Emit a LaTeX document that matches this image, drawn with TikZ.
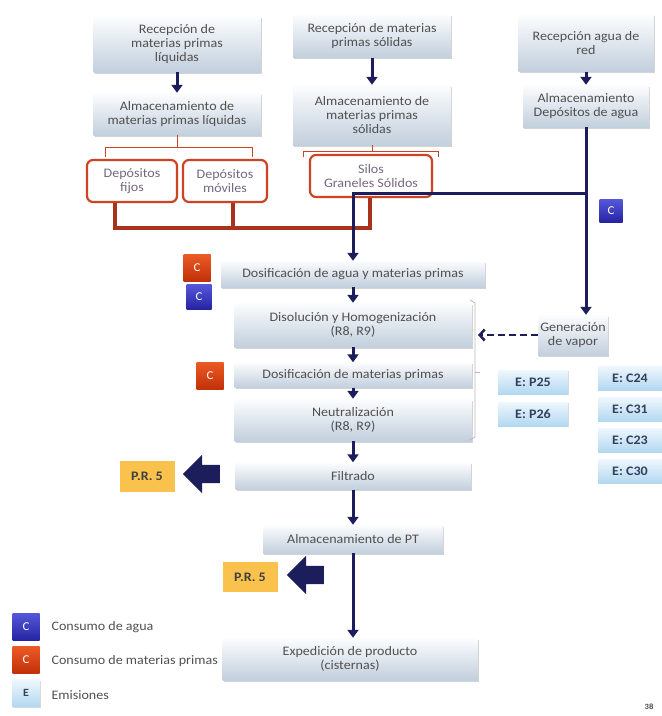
\documentclass[tikz,border=0pt]{standalone}
\usepackage{fontspec}
\setmainfont{Carlito}[FakeStretch=1.08]
\usetikzlibrary{arrows.meta,shapes.arrows,shadows,calc}

\definecolor{navy}{HTML}{1C1E5C}
\definecolor{boxtop}{HTML}{FCFDFE}
\definecolor{boxbot}{HTML}{C2CFDD}
\definecolor{boxtxt}{HTML}{505050}
\definecolor{tanktxt}{HTML}{74687E}
\definecolor{redline}{HTML}{A8321A}
\definecolor{redbox}{HTML}{CC4424}
\definecolor{credtop}{HTML}{EA5A24}
\definecolor{credbot}{HTML}{C2300A}
\definecolor{cbluetop}{HTML}{5656DA}
\definecolor{cbluebot}{HTML}{2424A2}
\definecolor{etop}{HTML}{EEF7FD}
\definecolor{ebot}{HTML}{B2D8F0}
\definecolor{etxt}{HTML}{34405C}
\definecolor{prfill}{HTML}{F8C24C}

\begin{document}
\begin{tikzpicture}[x=1pt,y=-1pt,
    font=\fontsize{13}{14}\selectfont,
    proc/.style={shade, top color=boxtop, bottom color=boxbot, text=boxtxt, align=center, inner sep=2pt,
        drop shadow={shadow xshift=1.2pt, shadow yshift=-1.5pt, opacity=0.35}},
    tank/.style={draw=redbox, line width=2.2pt, rounded corners=6pt, fill=white, text=tanktxt, align=center,
        drop shadow={shadow xshift=1pt, shadow yshift=-1pt, opacity=0.25}},
    emis/.style={shade, top color=etop, bottom color=ebot, text=etxt, font=\fontsize{13}{14}\selectfont\bfseries,
        minimum height=24pt, drop shadow={shadow xshift=1pt, shadow yshift=-1.2pt, opacity=0.3}},
    cred/.style={shade, top color=credtop, bottom color=credbot, text=white, inner sep=0pt, font=\fontsize{12}{12}\selectfont},
    cblue/.style={shade, top color=cbluetop, bottom color=cbluebot, text=white, inner sep=0pt, font=\fontsize{12}{12}\selectfont},
    prbox/.style={fill=prfill, text=black!75, font=\fontsize{13}{14}\selectfont\bfseries, minimum width=55pt, minimum height=31pt},
    fatarrow/.style={single arrow, shape border rotate=180, fill=navy, minimum height=37pt, minimum width=38pt,
        single arrow head extend=10pt, inner xsep=0pt, inner ysep=9pt},
    flow/.style={navy, line width=3pt, -{Triangle[length=8pt,width=11pt]}},
    redthick/.style={redline, line width=3.5pt},
    brk/.style={redbox, line width=0.8pt}
  ]
    \useasboundingbox (0,0) rectangle (662,716);

    % Reception and storage
    \node[proc, minimum width=167pt, minimum height=56pt] (recliq) at (177,44) {Recepción de\\materias primas\\líquidas};
    \node[proc, minimum width=167pt, minimum height=42pt] (almliq) at (177,114) {Almacenamiento de\\materias primas líquidas};
    \node[proc, minimum width=158pt, minimum height=43pt] (recsol) at (372,36) {Recepción de materias\\primas sólidas};
    \node[proc, minimum width=158pt, minimum height=60pt] (almsol) at (372,115) {Almacenamiento de\\materias primas\\sólidas};
    \node[proc, minimum width=135pt, minimum height=57pt] (recagua) at (586,43) {Recepción agua de\\red};
    \node[proc, minimum width=126pt, minimum height=42pt] (almagua) at (586,106) {Almacenamiento\\Depósitos de agua};

    \draw[flow] (recliq) -- (almliq);
    \draw[flow] (recsol) -- (almsol);
    \draw[flow] (recagua) -- (almagua);

    % Tanks and silos
    \node[tank, minimum width=90pt, minimum height=42pt] (depfij) at (132,181) {Depósitos\\fijos};
    \node[tank, minimum width=84pt, minimum height=42pt] (depmov) at (225,181) {Depósitos\\móviles};
    \node[tank, minimum width=122pt, minimum height=42pt] (silos) at (371,176) {Silos\\Graneles Sólidos};

    \coordinate (bl1) at (105,157);
    \coordinate (bl2) at (252,157);
    \draw[brk] (almliq.south) -- (almliq.south |- 0,147);
    \draw[brk] (bl1) |- (bl2 |- 0,147) -- (bl2);
    \coordinate (bs1) at (303,157);
    \coordinate (bs2) at (438,157);
    \draw[brk] (almsol.south) -- (almsol.south |- 0,151);
    \draw[brk] (bs1) |- (bs2 |- 0,151) -- (bs2);

    % Red collector
    \coordinate (rj) at (370,228);
    \coordinate (fj) at ($(depfij.south)+(-17,0)$);
    \coordinate (mv) at ($(depmov.south)+(8,0)$);
    \draw[redthick] (fj) |- (rj) -- (rj |- silos.south);
    \draw[redthick] (mv) -- (mv |- rj);

    % Process line
    \node[proc, minimum width=264pt, minimum height=26pt] (dosif) at (353,274) {Dosificación de agua y materias primas};
    \node[proc, minimum width=237pt, minimum height=44pt] (disol) at (353,325) {Disolución y Homogenización\\(R8, R9)};
    \node[proc, minimum width=237pt, minimum height=25pt] (dosmp) at (353,375) {Dosificación de materias primas};
    \node[proc, minimum width=237pt, minimum height=42pt] (neutr) at (353,420) {Neutralización\\(R8, R9)};
    \node[proc, minimum width=235pt, minimum height=27pt] (filtr) at (353,476) {Filtrado};
    \node[proc, minimum width=180pt, minimum height=28pt] (almpt) at (353,539) {Almacenamiento de PT};
    \node[proc, minimum width=255pt, minimum height=42pt] (exped) at (350,659) {Expedición de producto\\(cisternas)};

    \draw[flow] (dosif) -- (disol);
    \draw[flow] (disol) -- (dosmp);
    \draw[flow] (dosmp) -- (neutr);
    \draw[flow] (neutr) -- (filtr);
    \draw[flow] (filtr) -- (almpt);
    \draw[flow] (almpt) -- (almpt |- exped.north);

    % Water line
    \coordinate (wj) at (almagua.south |- 0,193);
    \node[proc, minimum width=70pt, minimum height=40pt] (genvap) at (573,335) {Generación\\de vapor};
    \draw[flow] (almagua.south) -- (almagua.south |- genvap.north);
    \draw[flow] (wj) -| (dosif.north);

    % Bracket and steam
    \draw[gray!55, line width=0.8pt] (470,300) -- (475,303) -- (475,437) -- (470,440);
    \draw[gray!55, line width=0.8pt] (475,372) -- (480,372);
    \coordinate (brin) at (478,335);
    \draw[navy, line width=2.5pt, dash pattern=on 7pt off 4pt, -{Straight Barb[length=5pt,width=11pt]}] (genvap.west) -- (brin);

    % Consumption marks
    \node[cred, minimum size=27pt] (cr1) at (197,268) {C};
    \node[cblue, minimum size=25pt] (cb1) at (199,297) {C};
    \node[cred, minimum size=27pt] (cr2) at (210,376) {C};
    \node[cblue, minimum size=23pt] (cb2) at (611,211) {C};

    % Emissions
    \node[emis, minimum width=70pt] (ep25) at (533,382) {E: P25};
    \node[emis, minimum width=70pt] (ep26) at (533,414) {E: P26};
    \node[emis, minimum width=64pt] (ec24) at (630,378) {E: C24};
    \node[emis, minimum width=64pt] (ec31) at (630,409) {E: C31};
    \node[emis, minimum width=64pt] (ec23) at (630,440) {E: C23};
    \node[emis, minimum width=64pt] (ec30) at (630,471) {E: C30};

    % Residues
    \node[prbox] (pr1) at (147,476) {P.R. 5};
    \node[fatarrow] (out1) at (206,474) {};
    \node[prbox, minimum height=30pt] (pr2) at (250,577) {P.R. 5};
    \node[fatarrow] (out2) at (310,575) {};

    % Legend
    \node[cblue, minimum size=27pt] (lcb) at (26,627) {C};
    \node[right, text=boxtxt] at (48,627) {Consumo de agua};
    \node[cred, minimum size=27pt] (lcr) at (26,660) {C};
    \node[right, text=boxtxt] at (48,661) {Consumo de materias primas};
    \node[emis, minimum width=28pt, minimum height=27pt, inner sep=0pt, font=\fontsize{11}{11}\selectfont\bfseries] (le) at (26,693) {E};
    \node[right, text=boxtxt] at (48,695) {Emisiones};

    \node[text=black!70, font=\fontsize{8}{8}\selectfont\bfseries] (pg) at (649,707) {38};
\end{tikzpicture}
\end{document}
